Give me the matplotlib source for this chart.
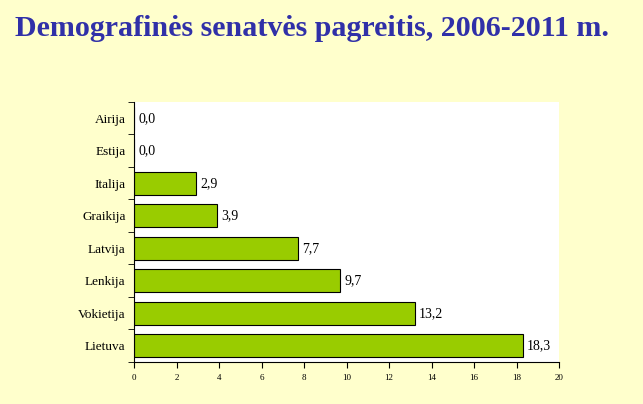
import matplotlib.pyplot as plt

# duomenys
salys = ["Airija", "Estija", "Italija", "Graikija", "Latvija", "Lenkija", "Vokietija", "Lietuva"]
reiksmes = [0.0, 0.0, 2.9, 3.9, 7.7, 9.7, 13.2, 18.3]
x_ticks = [0, 2, 4, 6, 8, 10, 12, 14, 16, 18, 20]

fig = plt.figure(figsize=(6.43, 4.04), dpi=100)
fig.patch.set_facecolor("#FFFFCC")

ax = fig.add_axes([0.2084, 0.104, 0.661, 0.6436])
ax.set_facecolor("white")

pos = list(range(len(salys)))
ax.barh(pos, reiksmes, height=0.7, color="#99CC00", edgecolor="black", linewidth=0.8)

for p, v in zip(pos, reiksmes):
    ax.text(v + 0.2, p, f"{v:.1f}".replace(".", ","), va="center", ha="left",
            fontsize=10, family="Liberation Serif")

ax.set_xlim(0, 20)
ax.set_ylim(len(salys) - 0.5, -0.5)
ax.set_xticks(x_ticks)
ax.set_xticklabels([str(t) for t in x_ticks], fontsize=6.5, family="Liberation Serif")

# y ticks on category borders, labels in the middle
ax.set_yticks(pos)
ax.set_yticklabels(salys, fontsize=9.5, family="Liberation Serif")
ax.tick_params(axis="y", length=0, pad=6)
ax.set_yticks([p - 0.5 for p in pos] + [len(salys) - 0.5], minor=True)
ax.tick_params(axis="y", which="minor", length=4, direction="out")
ax.tick_params(axis="x", length=4, direction="out", pad=5)

for s in ["top", "right"]:
    ax.spines[s].set_visible(False)
ax.spines["left"].set_linewidth(0.8)
ax.spines["bottom"].set_linewidth(0.8)

fig.text(0.023, 0.930, "Demografinės senatvės pagreitis, 2006-2011 m.", fontsize=21.6,
         fontweight="bold", color="#3030A8", family="Liberation Serif", va="center")

fig.savefig("out.png", dpi=100, facecolor=fig.get_facecolor())
